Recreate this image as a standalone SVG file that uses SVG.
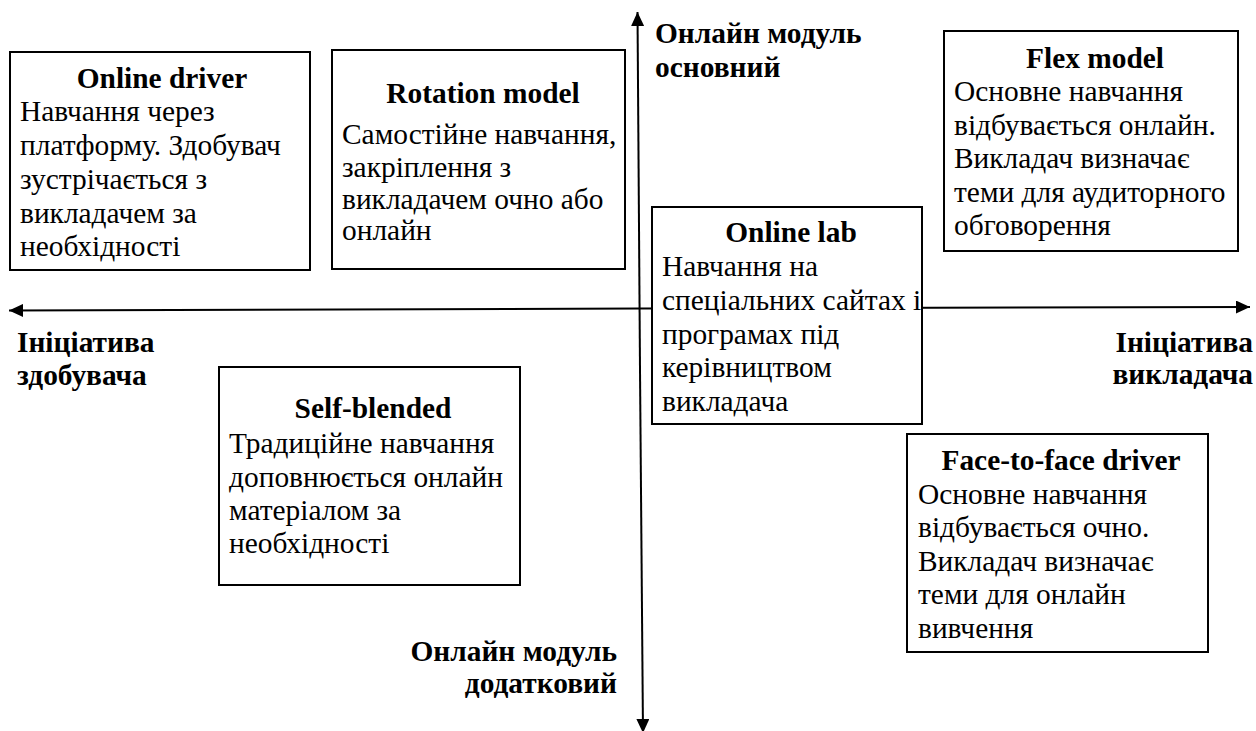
<svg xmlns="http://www.w3.org/2000/svg" class="d" width="1256" height="731" viewBox="0 0 1256 731">
  <defs>
    <marker id="arrow" viewBox="0 0 14 13" refX="14" refY="6.5" markerWidth="14" markerHeight="13" markerUnits="userSpaceOnUse" orient="auto">
      <path d="M0,0 L14,6.5 L0,13 Z" fill="#000"/>
    </marker>
    <style>
      .d text { font-family: "Liberation Serif", "Times New Roman", serif; font-size: 29.4px; fill: #000; }
      .d text.title { font-weight: bold; text-anchor: middle; }
      .d text.axis-label { font-weight: bold; }
      .d text.end { text-anchor: end; }
      .box { fill: #fff; stroke: #000; stroke-width: 2; }
      .axis { stroke: #000; stroke-width: 2; fill: none; }
    </style>
  </defs>
  <rect width="1256" height="731" fill="#fff"/>

  <!-- axes, drawn from the centre outwards -->
  <g id="connectors">
    <line class="axis" x1="640" y1="308.5" x2="9" y2="310.5" marker-end="url(#arrow)"/>
    <line class="axis" x1="640" y1="308.5" x2="1250" y2="307" marker-end="url(#arrow)"/>
    <line class="axis" x1="640" y1="370" x2="637.5" y2="12" marker-end="url(#arrow)"/>
    <line class="axis" x1="640" y1="370" x2="643" y2="733" marker-end="url(#arrow)"/>
  </g>

  <!-- axis labels -->
  <g id="label-top">
    <text class="axis-label" x="655" y="43">Онлайн модуль</text>
    <text class="axis-label" x="655" y="77">основний</text>
  </g>
  <g id="label-bottom">
    <text class="axis-label end" x="617" y="661">Онлайн модуль</text>
    <text class="axis-label end" x="617" y="693">додатковий</text>
  </g>
  <g id="label-left">
    <text class="axis-label" x="17" y="352">Ініціатива</text>
    <text class="axis-label" x="17" y="385">здобувача</text>
  </g>
  <g id="label-right">
    <text class="axis-label end" x="1253" y="352">Ініціатива</text>
    <text class="axis-label end" x="1253" y="384">викладача</text>
  </g>

  <g id="online-driver">
    <rect class="box" x="10" y="52" width="300" height="218"/>
    <text class="title" x="162" y="88">Online driver</text>
    <text x="20" y="121">Навчання через</text>
    <text x="20" y="155">платформу. Здобувач</text>
    <text x="20" y="189">зустрічається з</text>
    <text x="20" y="223">викладачем за</text>
    <text x="20" y="256">необхідності</text>
  </g>

  <g id="rotation-model">
    <rect class="box" x="332" y="50" width="293" height="219"/>
    <text class="title" x="483" y="103">Rotation model</text>
    <text x="342" y="144">Самостійне навчання,</text>
    <text x="342" y="177">закріплення з</text>
    <text x="342" y="209">викладачем очно або</text>
    <text x="342" y="240">онлайн</text>
  </g>

  <g id="flex-model">
    <rect class="box" x="944" y="31" width="294" height="220"/>
    <text class="title" x="1095" y="68">Flex model</text>
    <text x="954" y="101">Основне навчання</text>
    <text x="954" y="135">відбувається онлайн.</text>
    <text x="954" y="168">Викладач визначає</text>
    <text x="954" y="202">теми для аудиторного</text>
    <text x="954" y="235">обговорення</text>
  </g>

  <g id="online-lab">
    <rect class="box" x="652" y="207" width="270" height="217"/>
    <text class="title" x="791" y="242">Online lab</text>
    <text x="662" y="276">Навчання на</text>
    <text x="662" y="310">спеціальних сайтах і</text>
    <text x="662" y="344">програмах під</text>
    <text x="662" y="377">керівництвом</text>
    <text x="662" y="411">викладача</text>
  </g>

  <g id="self-blended">
    <rect class="box" x="219" y="367" width="301" height="218"/>
    <text class="title" x="373" y="418">Self-blended</text>
    <text x="229" y="453">Традиційне навчання</text>
    <text x="229" y="487">доповнюється онлайн</text>
    <text x="229" y="520">матеріалом за</text>
    <text x="229" y="553">необхідності</text>
  </g>

  <g id="face-to-face-driver">
    <rect class="box" x="907" y="434" width="301" height="218"/>
    <text class="title" x="1061" y="470">Face-to-face driver</text>
    <text x="918" y="504">Основне навчання</text>
    <text x="918" y="537">відбувається очно.</text>
    <text x="918" y="571">Викладач визначає</text>
    <text x="918" y="604">теми для онлайн</text>
    <text x="918" y="638">вивчення</text>
  </g>
</svg>
